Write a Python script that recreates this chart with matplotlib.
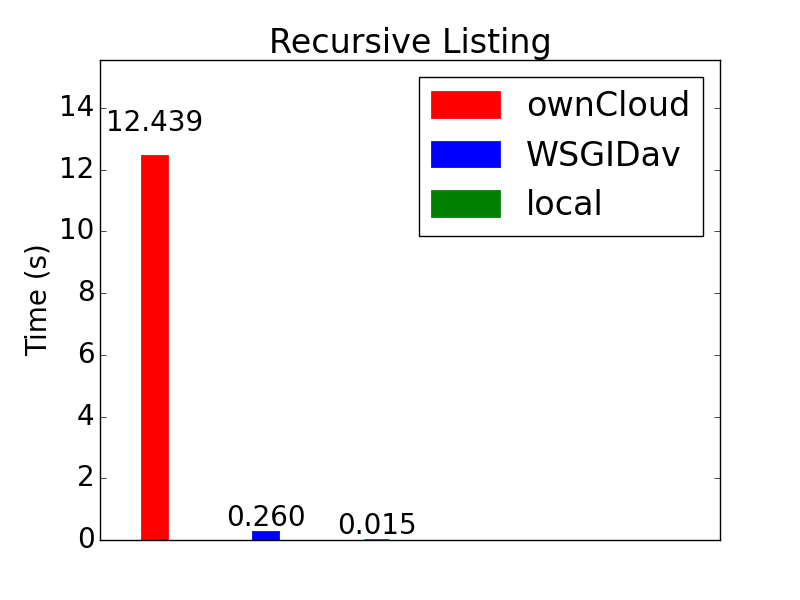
import numpy as np
import matplotlib
matplotlib.use('Agg')
import matplotlib.pyplot as plt

plt.style.use('classic')

names = ['ownCloud', 'WSGIDav', 'local']
times = [12.439, 0.260, 0.015]
colors = ['r', 'b', 'g']

x = np.arange(len(times))
width = 0.225

fig, ax = plt.subplots(figsize=(8, 6))
for i in range(len(times)):
    ax.bar(x[i], times[i], width, color=colors[i], edgecolor=colors[i],
           linewidth=2, align='center', label=names[i])
    ax.text(x[i], 1.05 * times[i], '%.3f' % times[i],
            ha='center', va='bottom', fontsize=20)

ax.set_xlim(-0.495, 5.09)
ax.set_ylim(0, max(times) * 1.25)
ax.set_xticks([])
ax.set_yticks(np.arange(0, 15, 2))
ax.tick_params(axis='y', labelsize=20)
ax.set_ylabel('Time (s)', fontsize=20)
ax.set_title('Recursive Listing', fontsize=24)
ax.legend(loc='upper right', fontsize=24, handlelength=2.0, handleheight=0.75)

fig.savefig('out.png', dpi=100)
